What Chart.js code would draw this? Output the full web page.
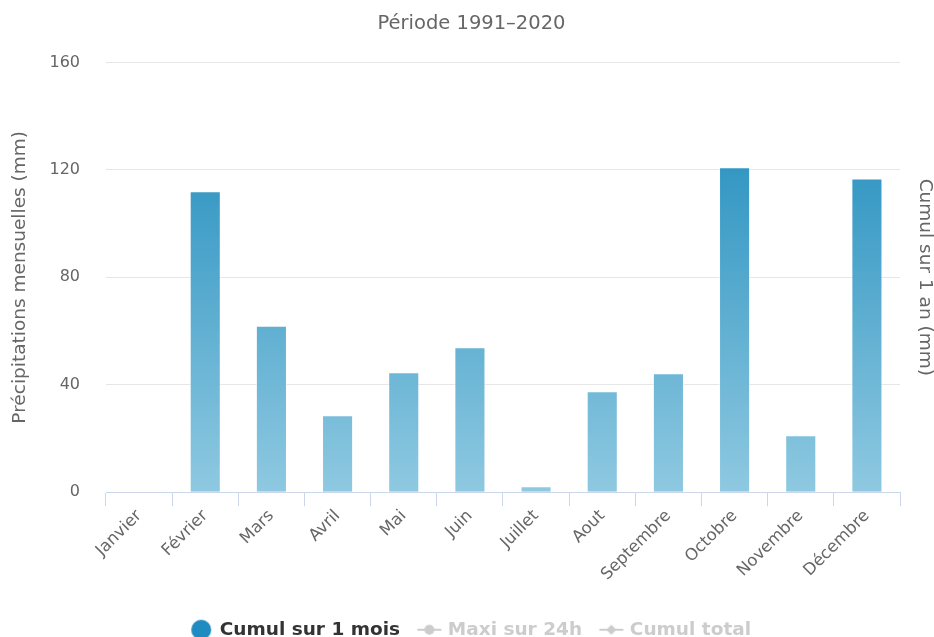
<!DOCTYPE html>
<html>
<head>
<meta charset="utf-8">
<script src="https://cdn.jsdelivr.net/npm/chart.js@4.4.0/dist/chart.umd.min.js"></script>
<style>
  html,body{ margin:0; padding:0; background:#fff; }
  #wrap{ width:934px; height:637px; }
</style>
</head>
<body>
<div id="wrap"><canvas id="cPluie"></canvas></div>
<script>
// Précipitations mensuelles, période 1991-2020
const mois = ['Janvier','Février','Mars','Avril','Mai','Juin','Juillet','Aout','Septembre','Octobre','Novembre','Décembre'];
const cumulMois = [0, 112, 62, 28.7, 44.7, 54, 2.2, 37.6, 44.3, 121, 21.2, 116.8];
const maxi24h = [];      // série masquée
const cumulTotal = [];   // série masquée
const ticksY = [0, 40, 80, 120, 160];

const FONT = 'DejaVu Sans';

function gradBarre(ctx){
  const ch = ctx.chart, a = ch.chartArea;
  if(!a) return '#5aaed3';
  const y = ch.scales.y;
  const g = ch.ctx.createLinearGradient(0, y.getPixelForValue(125), 0, y.getPixelForValue(0));
  g.addColorStop(0, 'rgba(42,146,192,0.97)');
  g.addColorStop(1, 'rgba(139,199,224,0.97)');
  return g;
}

// petits symboles de légende (ligne + marqueur)
function symbole(forme){
  const c = document.createElement('canvas');
  c.width = 26; c.height = 14;
  const x = c.getContext('2d');
  x.strokeStyle = '#cccccc'; x.fillStyle = '#cccccc'; x.lineWidth = 2;
  x.beginPath(); x.moveTo(1,7); x.lineTo(25,7); x.stroke();
  x.beginPath();
  if(forme === 'rond'){ x.arc(13,7,5,0,Math.PI*2); }
  else { x.moveTo(13,2); x.lineTo(18,7); x.lineTo(13,12); x.lineTo(8,7); x.closePath(); }
  x.fill();
  return c;
}
function rondBleu(){
  const c = document.createElement('canvas');
  c.width = 22; c.height = 22;
  const x = c.getContext('2d');
  x.fillStyle = '#1f8bc0';
  x.beginPath(); x.arc(11,11,10,0,Math.PI*2); x.fill();
  return c;
}
const symboles = [rondBleu(), symbole('rond'), symbole('losange')];

new Chart(document.getElementById('cPluie'), {
  type: 'bar',
  data: {
    labels: mois,
    datasets: [
      { label:'Cumul sur 1 mois', data:cumulMois, backgroundColor:gradBarre, borderColor:'rgba(255,255,255,0.6)', borderWidth:1,
        barPercentage:0.47, categoryPercentage:1, yAxisID:'y' },
      { label:'Maxi sur 24h', type:'line', data:maxi24h, borderColor:'#ccc', yAxisID:'y', hidden:true },
      { label:'Cumul total', type:'line', data:cumulTotal, borderColor:'#ccc', yAxisID:'y2', hidden:true }
    ]
  },
  options: {
    responsive:true, maintainAspectRatio:false, animation:false,
    layout:{ padding:{ left:9, right:0, top:4, bottom:-12 } },
    scales: {
      x: {
        grid:{ drawOnChartArea:false, offset:true, tickLength:14, color:'#ccd6eb' },
        border:{ color:'#ccd6eb', width:1 },
        ticks:{ color:'#666', font:{ family:FONT, size:16.5 }, maxRotation:45, minRotation:45, padding:0 },
        afterFit: s => { s.height += 16; s.paddingLeft = 0; s.paddingRight = 0; }
      },
      y: {
        min:0, max:160,
        afterBuildTicks: s => { s.ticks = ticksY.map(v => ({ value:v })); },
        grid:{ color:'#e6e6e6', drawTicks:false },
        border:{ display:false },
        ticks:{ color:'#666', font:{ family:FONT, size:16 }, padding:26 },
        title:{ display:true, text:'Précipitations mensuelles (mm)', color:'#666', font:{ family:FONT, size:18.5 }, padding:{ top:0, bottom:0 } },
        afterFit: s => { s.width = 97; }
      },
      y2: {
        position:'right', min:0, max:160,
        grid:{ display:false }, border:{ display:false },
        ticks:{ display:false, padding:0 },
        title:{ display:true, text:'Cumul sur 1 an (mm)', color:'#666', font:{ family:FONT, size:18.5, lineHeight:1 }, padding:{ top:0, bottom:2 } },
        afterFit: s => { s.width = 34; }
      }
    },
    plugins: {
      title:{ display:true, text:'Période 1991–2020', color:'#666', font:{ family:FONT, size:19.5, weight:'normal' }, padding:{ top:8, bottom:27 } },
      tooltip:{ enabled:false },
      legend:{
        position:'bottom',
        onClick: null,
        labels:{
          usePointStyle:true, padding:20,
          font:{ family:FONT, size:18.5, weight:'bold' },
          generateLabels: ch => ch.data.datasets.map((d,i) => ({
            text:d.label, datasetIndex:i, hidden:false,
            fontColor: i === 0 ? '#333333' : '#cccccc',
            pointStyle: symboles[i], lineWidth:0, strokeStyle:'transparent', fillStyle:'transparent'
          }))
        }
      }
    }
  }
});
</script>
</body>
</html>
